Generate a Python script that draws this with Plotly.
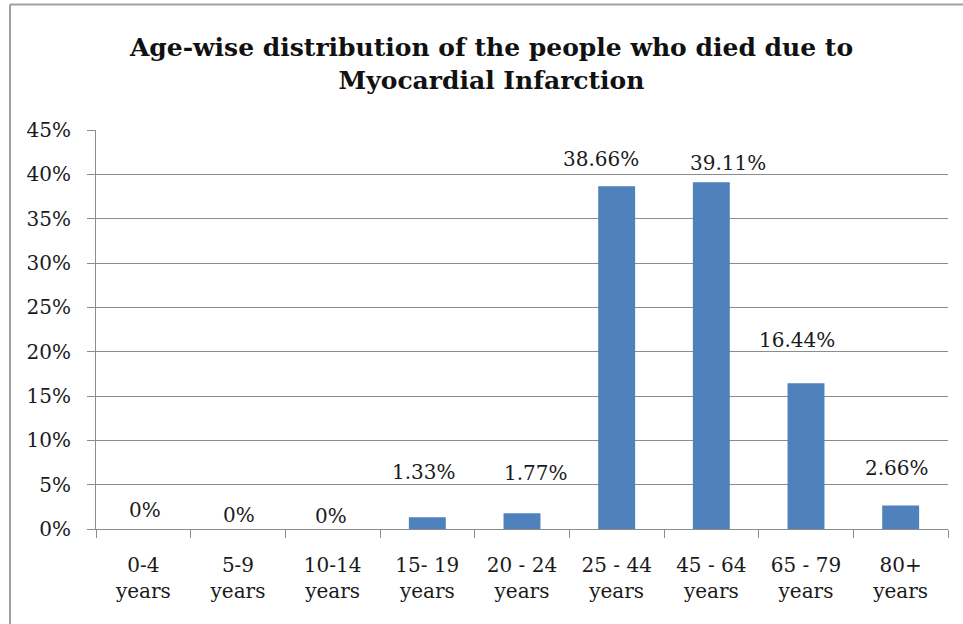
import plotly.graph_objects as go

categories = ["0-4<br>years", "5-9<br>years", "10-14<br>years", "15- 19<br>years",
              "20 - 24<br>years", "25 - 44<br>years", "45 - 64<br>years",
              "65 - 79<br>years", "80+<br>years"]
values = [0, 0, 0, 1.33, 1.77, 38.66, 39.11, 16.44, 2.66]
tick_vals = [0, 5, 10, 15, 20, 25, 30, 35, 40, 45]
tick_text = [f"{t}%" for t in tick_vals]
title_text = "Age-wise distribution of the people who died due to<br>Myocardial Infarction"

# label placement offsets (pixels), styling only
label_dx = [2, 1, -2, -3, 14, -16, 17, -9, -4]
label_dy = [19, 14, 13, 45, 40, 27, 19, 43, 37]

SERIF = "DejaVu Serif, serif"
BAR = "#4F81BD"
GRID = "#8C8C8C"
TXT = "#1a1a1a"

fig = go.Figure()
fig.add_trace(go.Bar(x=categories, y=values, marker=dict(color=BAR, line=dict(width=0)),
                     hoverinfo="skip"))

for c, v, dx, dy in zip(categories, values, label_dx, label_dy):
    fig.add_annotation(x=c, y=v, text=f"{v:g}%", showarrow=False, xshift=dx, yshift=dy,
                       yanchor="middle", font=dict(family=SERIF, size=20, color=TXT))

fig.update_layout(
    width=963, height=624,
    margin=dict(l=96, r=15, t=130, b=95),
    paper_bgcolor="white", plot_bgcolor="white",
    bargap=0.61, showlegend=False,
    title=dict(text=title_text, x=491.5 / 963, xanchor="center", xref="container",
               y=1 - 56 / 624, yref="container", yanchor="middle",
               font=dict(family=SERIF, size=25, color="#111", weight="bold")),
    font=dict(family=SERIF, size=20, color=TXT),
)
fig.update_xaxes(showline=True, linecolor=GRID, linewidth=1, ticks="outside", ticklen=8,
                 tickcolor=GRID, tickson="boundaries", showgrid=False,
                 ticklabelstandoff=18,
                 tickfont=dict(family=SERIF, size=20, color=TXT))
fig.update_yaxes(range=[0, 45], tickvals=tick_vals, ticktext=tick_text, showline=True,
                 linecolor=GRID, linewidth=1, ticks="outside", ticklen=8, tickcolor=GRID,
                 showgrid=True, gridcolor=GRID, gridwidth=1, zeroline=False,
                 ticklabelstandoff=12,
                 tickfont=dict(family=SERIF, size=20, color=TXT))

# outer frame (top and left edges of the chart area)
fx = (10 - 96) / 852
fy_top = (529 - 4.5) / 399
fig.add_shape(type="line", xref="paper", yref="paper", x0=fx, x1=(963 - 96) / 852,
              y0=fy_top, y1=fy_top, line=dict(color="#A0A0A0", width=2))
fig.add_shape(type="line", xref="paper", yref="paper", x0=fx, x1=fx,
              y0=fy_top, y1=(529 - 624) / 399, line=dict(color="#A0A0A0", width=2))

fig.write_html("out.html")
